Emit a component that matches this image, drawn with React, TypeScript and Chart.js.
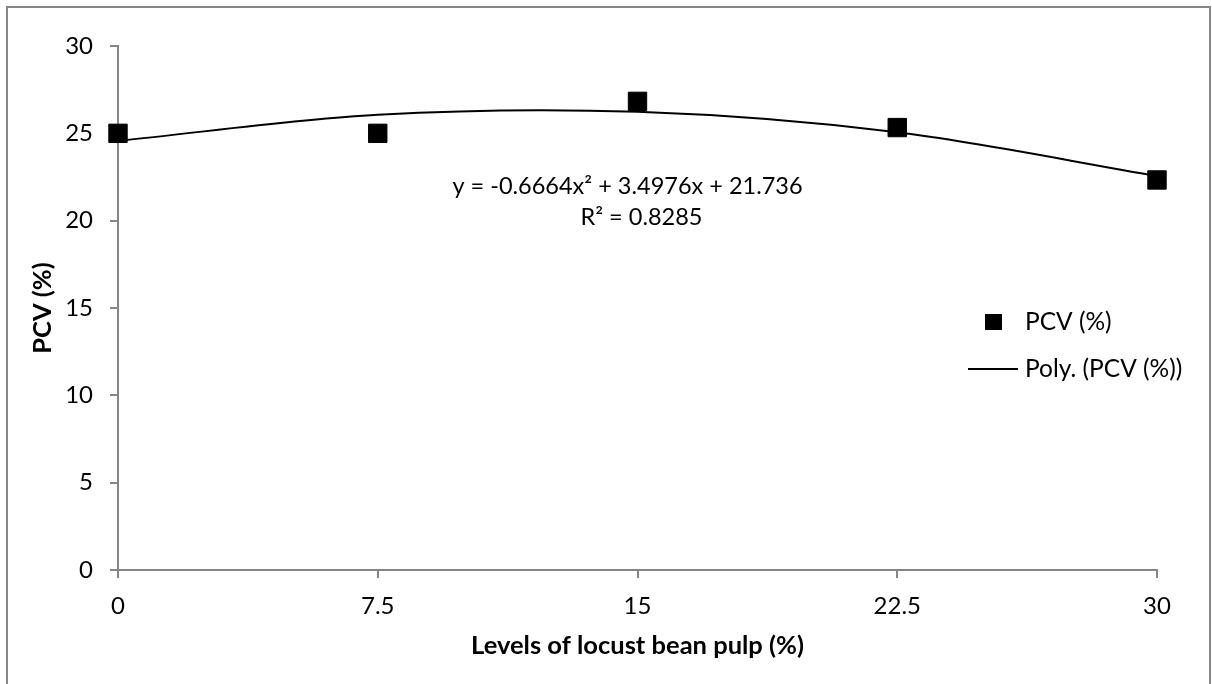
import React, { useEffect, useRef } from "react";
import { Chart, registerables } from "chart.js";

Chart.register(...registerables);

// ---- data ----
const xLevels = [0, 7.5, 15, 22.5, 30];
const pcvValues = [25, 25, 26.83, 25.33, 22.33];
const polyFitValues = [24.57, 26.06, 26.23, 25.06, 22.56];
const xTickValues = [0, 7.5, 15, 22.5, 30];
const yTickValues = [0, 5, 10, 15, 20, 25, 30];
const seriesLabels = ["PCV (%)", "Poly. (PCV (%))"];
const equationLines = ["y = -0.6664x\u00B2 + 3.4976x + 21.736", "R\u00B2 = 0.8285"];
const xTitle = "Levels of locust bean pulp (%)";
const yTitle = "PCV (%)";

// ---- style ----
const FONT = "Lato, 'Open Sans', sans-serif";
const FS = 24;
const FS_EQ = 23.5;
const FS_LEG = 24.5;
const FS_TITLE = 25.5;
const AXIS = "#868686";
const INK = "#000000";
const W = 1201;
const H = 676;

const overlayPlugin = {
  id: "overlay",
  afterDatasetsDraw(chart: any) {
    const ctx = chart.ctx;
    ctx.save();
    ctx.fillStyle = INK;
    ctx.font = `${FS_EQ}px ${FONT}`;
    ctx.textBaseline = "middle";
    ctx.textAlign = "center";
    // trendline equation
    ctx.fillText(equationLines[0], 619.5, 178);
    ctx.fillText(equationLines[1], 633.5, 209);

    // legend
    const ds0 = chart.data.datasets[0];
    const ds1 = chart.data.datasets[1];
    ctx.fillStyle = ds0.backgroundColor;
    ctx.fillRect(977, 306, 17, 16);
    ctx.strokeStyle = ds1.borderColor;
    ctx.lineWidth = 2;
    ctx.beginPath();
    ctx.moveTo(960, 361);
    ctx.lineTo(1010, 361);
    ctx.stroke();
    ctx.fillStyle = INK;
    ctx.font = `${FS_LEG}px ${FONT}`;
    ctx.textAlign = "left";
    ctx.fillText(ds0.label, 1017, 314);
    ctx.fillText(ds1.label, 1017, 361);
    ctx.restore();
  },
};

export default function App() {
  const ref = useRef<HTMLCanvasElement | null>(null);

  useEffect(() => {
    if (!ref.current) return;
    const chart = new Chart(ref.current, {
      type: "scatter",
      data: {
        datasets: [
          {
            label: seriesLabels[0],
            data: xLevels.map((x, i) => ({ x, y: pcvValues[i] })),
            pointStyle: "rect",
            pointRadius: 13,
            pointBorderWidth: 1,
            backgroundColor: "#000000",
            borderColor: "#000000",
            showLine: false,
            clip: false,
            order: 0,
          } as any,
          {
            label: seriesLabels[1],
            data: xLevels.map((x, i) => ({ x, y: polyFitValues[i] })),
            showLine: true,
            pointRadius: 0,
            borderColor: "#000000",
            backgroundColor: "#000000",
            borderWidth: 2,
            tension: 0.33,
            clip: false,
            order: 1,
          } as any,
        ],
      },
      options: {
        animation: false,
        responsive: false,
        devicePixelRatio: 1,
        layout: { padding: { top: 38, right: 52, left: 0, bottom: 0 } },
        plugins: {
          legend: { display: false },
          tooltip: { enabled: false },
        },
        scales: {
          x: {
            type: "linear",
            min: 0,
            max: 30,
            afterBuildTicks: (s: any) => {
              s.ticks = xTickValues.map((v) => ({ value: v }));
            },
            afterFit: (s: any) => {
              s.height = 114;
            },
            ticks: {
              font: { family: FONT, size: FS },
              color: INK,
              padding: 14,
              maxRotation: 0,
              autoSkip: false,
            },
            grid: {
              display: true,
              drawOnChartArea: false,
              drawTicks: true,
              tickLength: 8,
              color: AXIS,
              lineWidth: 2,
            },
            border: { display: true, color: AXIS, width: 2 },
            title: {
              display: true,
              text: xTitle,
              color: INK,
              font: { family: FONT, size: FS_TITLE, weight: "bold" },
              padding: { top: 0, bottom: 23 },
            },
          },
          y: {
            type: "linear",
            min: 0,
            max: 30,
            afterBuildTicks: (s: any) => {
              s.ticks = yTickValues.map((v) => ({ value: v }));
            },
            afterFit: (s: any) => {
              s.width = 110;
            },
            ticks: {
              font: { family: FONT, size: FS },
              color: INK,
              padding: 17,
            },
            grid: {
              display: true,
              drawOnChartArea: false,
              drawTicks: true,
              tickLength: 8,
              color: AXIS,
              lineWidth: 2,
            },
            border: { display: true, color: AXIS, width: 2 },
            title: {
              display: true,
              text: yTitle,
              color: INK,
              font: { family: FONT, size: FS_TITLE, weight: "bold" },
              padding: { top: 19, bottom: 0 },
            },
          },
        },
      } as any,
      plugins: [overlayPlugin],
    });
    return () => chart.destroy();
  }, []);

  return (
    <div
      style={{
        position: "absolute",
        left: 6,
        top: 6,
        width: W,
        height: H,
        borderTop: `2px solid ${AXIS}`,
        borderLeft: `2px solid ${AXIS}`,
        borderRight: `2px solid ${AXIS}`,
        background: "#ffffff",
      }}
    >
      <canvas ref={ref} width={W} height={H} style={{ display: "block", width: W, height: H }} />
    </div>
  );
}
